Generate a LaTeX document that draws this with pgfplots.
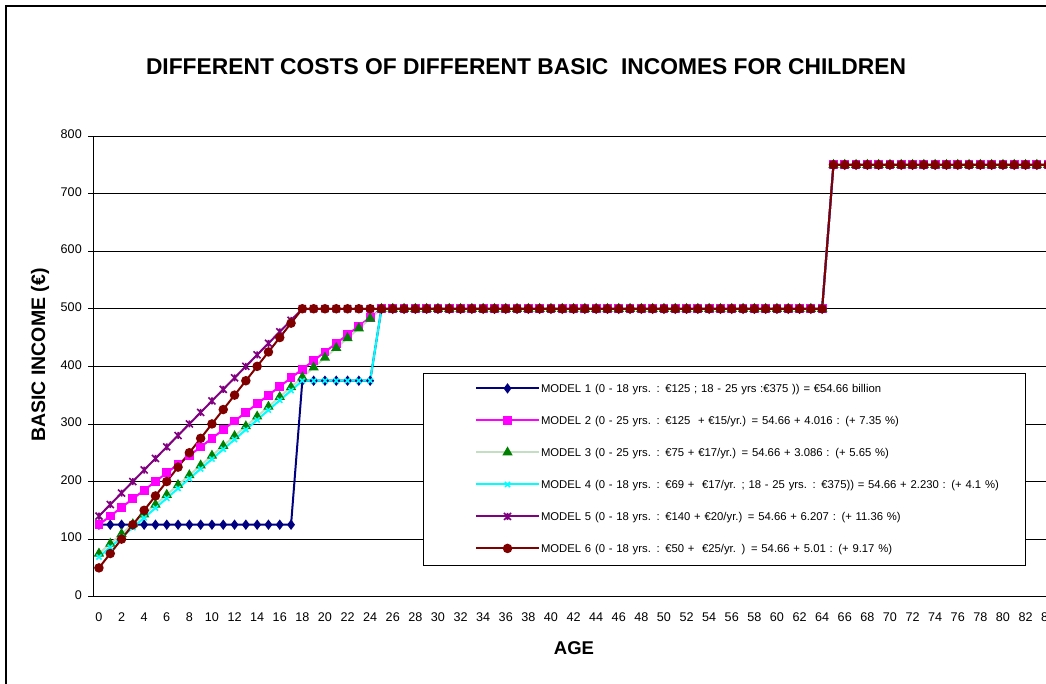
\documentclass[border=0pt]{standalone}
\usepackage{pgfplots}
\usepackage{pgfplotstable}
\pgfplotsset{compat=1.18}
\usepackage{fontspec}
\setmainfont{Liberation Sans}
\definecolor{m1}{RGB}{0,0,128}
\definecolor{m2}{RGB}{255,0,255}
\definecolor{m3}{RGB}{0,128,0}
\definecolor{m3line}{RGB}{196,222,196}
\definecolor{m4}{RGB}{0,255,255}
\definecolor{m5}{RGB}{128,0,128}
\definecolor{m6}{RGB}{128,0,0}

\pgfdeclareplotmark{xstar}{%
  \pgfpathmoveto{\pgfqpoint{-\pgfplotmarksize}{-\pgfplotmarksize}}%
  \pgfpathlineto{\pgfqpoint{\pgfplotmarksize}{\pgfplotmarksize}}%
  \pgfpathmoveto{\pgfqpoint{-\pgfplotmarksize}{\pgfplotmarksize}}%
  \pgfpathlineto{\pgfqpoint{\pgfplotmarksize}{-\pgfplotmarksize}}%
  \pgfpathmoveto{\pgfqpoint{0pt}{-\pgfplotmarksize}}%
  \pgfpathlineto{\pgfqpoint{0pt}{\pgfplotmarksize}}%
  \pgfusepathqstroke}

\pgfplotstableread{
age m1 m2 m3 m4 m5 m6
0 125 125 75 69 140 50
1 125 140 92 86 160 75
2 125 155 109 103 180 100
3 125 170 126 120 200 125
4 125 185 143 137 220 150
5 125 200 160 154 240 175
6 125 215 177 171 260 200
7 125 230 194 188 280 225
8 125 245 211 205 300 250
9 125 260 228 222 320 275
10 125 275 245 239 340 300
11 125 290 262 256 360 325
12 125 305 279 273 380 350
13 125 320 296 290 400 375
14 125 335 313 307 420 400
15 125 350 330 324 440 425
16 125 365 347 341 460 450
17 125 380 364 358 480 475
18 375 395 381 375 500 500
19 375 410 398 375 500 500
20 375 425 415 375 500 500
21 375 440 432 375 500 500
22 375 455 449 375 500 500
23 375 470 466 375 500 500
24 375 485 483 375 500 500
25 500 500 500 500 500 500
26 500 500 500 500 500 500
27 500 500 500 500 500 500
28 500 500 500 500 500 500
29 500 500 500 500 500 500
30 500 500 500 500 500 500
31 500 500 500 500 500 500
32 500 500 500 500 500 500
33 500 500 500 500 500 500
34 500 500 500 500 500 500
35 500 500 500 500 500 500
36 500 500 500 500 500 500
37 500 500 500 500 500 500
38 500 500 500 500 500 500
39 500 500 500 500 500 500
40 500 500 500 500 500 500
41 500 500 500 500 500 500
42 500 500 500 500 500 500
43 500 500 500 500 500 500
44 500 500 500 500 500 500
45 500 500 500 500 500 500
46 500 500 500 500 500 500
47 500 500 500 500 500 500
48 500 500 500 500 500 500
49 500 500 500 500 500 500
50 500 500 500 500 500 500
51 500 500 500 500 500 500
52 500 500 500 500 500 500
53 500 500 500 500 500 500
54 500 500 500 500 500 500
55 500 500 500 500 500 500
56 500 500 500 500 500 500
57 500 500 500 500 500 500
58 500 500 500 500 500 500
59 500 500 500 500 500 500
60 500 500 500 500 500 500
61 500 500 500 500 500 500
62 500 500 500 500 500 500
63 500 500 500 500 500 500
64 500 500 500 500 500 500
65 750 750 750 750 750 750
66 750 750 750 750 750 750
67 750 750 750 750 750 750
68 750 750 750 750 750 750
69 750 750 750 750 750 750
70 750 750 750 750 750 750
71 750 750 750 750 750 750
72 750 750 750 750 750 750
73 750 750 750 750 750 750
74 750 750 750 750 750 750
75 750 750 750 750 750 750
76 750 750 750 750 750 750
77 750 750 750 750 750 750
78 750 750 750 750 750 750
79 750 750 750 750 750 750
80 750 750 750 750 750 750
81 750 750 750 750 750 750
82 750 750 750 750 750 750
83 750 750 750 750 750 750
84 750 750 750 750 750 750
85 750 750 750 750 750 750
}\datatable

\begin{document}
\begin{tikzpicture}
\useasboundingbox (0pt,0pt) rectangle (1046pt,684pt);
\draw[line width=1.5pt] (6pt,-5pt) -- (6pt,678pt) -- (1052pt,678pt);
\node[font=\fontsize{22.8}{26}\selectfont\bfseries] at (526pt,617pt) {DIFFERENT COSTS OF DIFFERENT BASIC\ \ INCOMES FOR CHILDREN};
\node[font=\fontsize{18.5}{22}\selectfont\bfseries] at (574pt,36pt) {AGE};
\node[rotate=90,font=\fontsize{19.5}{22}\selectfont\bfseries] at (40pt,329pt) {BASIC INCOME (€)};
\begin{axis}[
  at={(93.3pt,87.3pt)}, anchor=south west,
  scale only axis, width=971.8pt, height=460.7pt,
  xmin=-0.5, xmax=85.5, ymin=0, ymax=800,
  axis lines=left, axis line style={-, line width=1.2pt, black},
  ytick={0,100,...,800}, ymajorgrids,
  grid style={black, line width=0.8pt},
  xtick={0,2,...,84}, minor xtick={-0.5,0.5,...,85.5},
  xtick style={draw=none},
  major tick length=5pt, minor tick length=5pt,
  tick align=outside,
  ytick style={black, line width=0.8pt},
  minor tick style={black, line width=0.8pt},
  ticklabel style={font=\fontsize{12.6}{14}\selectfont},
  typeset ticklabels with strut,
  xticklabel style={yshift=-6pt},
  yticklabel style={xshift=-3pt},
  /pgf/number format/assume math mode=true,
  clip=false,
  legend style={at={(axis cs:28.68,388.4)}, anchor=north west,
    draw=black, line width=0.8pt, fill=white, inner sep=0pt,
    row sep=0pt, font=\fontsize{11.3}{13}\selectfont,
    nodes={inner sep=0pt, text depth=0pt, text width=484pt, anchor=west}},
  legend cell align=left,
  legend image code/.code={
    \path[draw=none,fill=none] (-52.6pt,-17pt) rectangle (65pt,15pt);
    \draw[mark repeat=2,mark phase=2,#1] plot coordinates {(0pt,0pt) (31.5pt,0pt) (63pt,0pt)};
  },
]
\addplot[m1, line width=2pt, mark=diamond*, mark size=3.6pt, mark options={fill=m1}] table[x=age,y=m1] {\datatable};
\addlegendentry{MODEL 1 (0 - 18 yrs. : €125 ; 18 - 25 yrs :€375 )) = €54.66 billion}
\addplot[m2, line width=2pt, mark=square*, mark size=3.4pt, mark options={fill=m2}] table[x=age,y=m2] {\datatable};
\addlegendentry{MODEL 2 (0 - 25 yrs. : €125\ \ + €15/yr.) = 54.66 + 4.016 : (+ 7.35 \%)}
\addplot[m3line, line width=2pt, mark=triangle*, mark size=4pt, mark options={draw=m3, fill=m3}] table[x=age,y=m3] {\datatable};
\addlegendentry{MODEL 3 (0 - 25 yrs. : €75 + €17/yr.) = 54.66 + 3.086 : (+ 5.65 \%)}
\addplot[m4, line width=2pt, mark=x, mark size=3.6pt, mark options={line width=1.6pt}] table[x=age,y=m4] {\datatable};
\addlegendentry{MODEL 4 (0 - 18 yrs. : €69 +\ \ €17/yr. ; 18 - 25 yrs. : €375)) = 54.66 + 2.230 : (+ 4.1 \%)}
\addplot[m5, line width=2pt, mark=xstar, mark size=3.5pt, mark options={line width=1.6pt}] table[x=age,y=m5] {\datatable};
\addlegendentry{MODEL 5 (0 - 18 yrs. : €140 + €20/yr.) = 54.66 + 6.207 : (+ 11.36 \%)}
\addplot[m6, line width=2pt, mark=*, mark size=3.7pt, mark options={fill=m6}] table[x=age,y=m6] {\datatable};
\addlegendentry{MODEL 6 (0 - 18 yrs. : €50 +\ \ €25/yr. ) = 54.66 + 5.01 : (+ 9.17 \%)}
\end{axis}
\end{tikzpicture}
\end{document}
